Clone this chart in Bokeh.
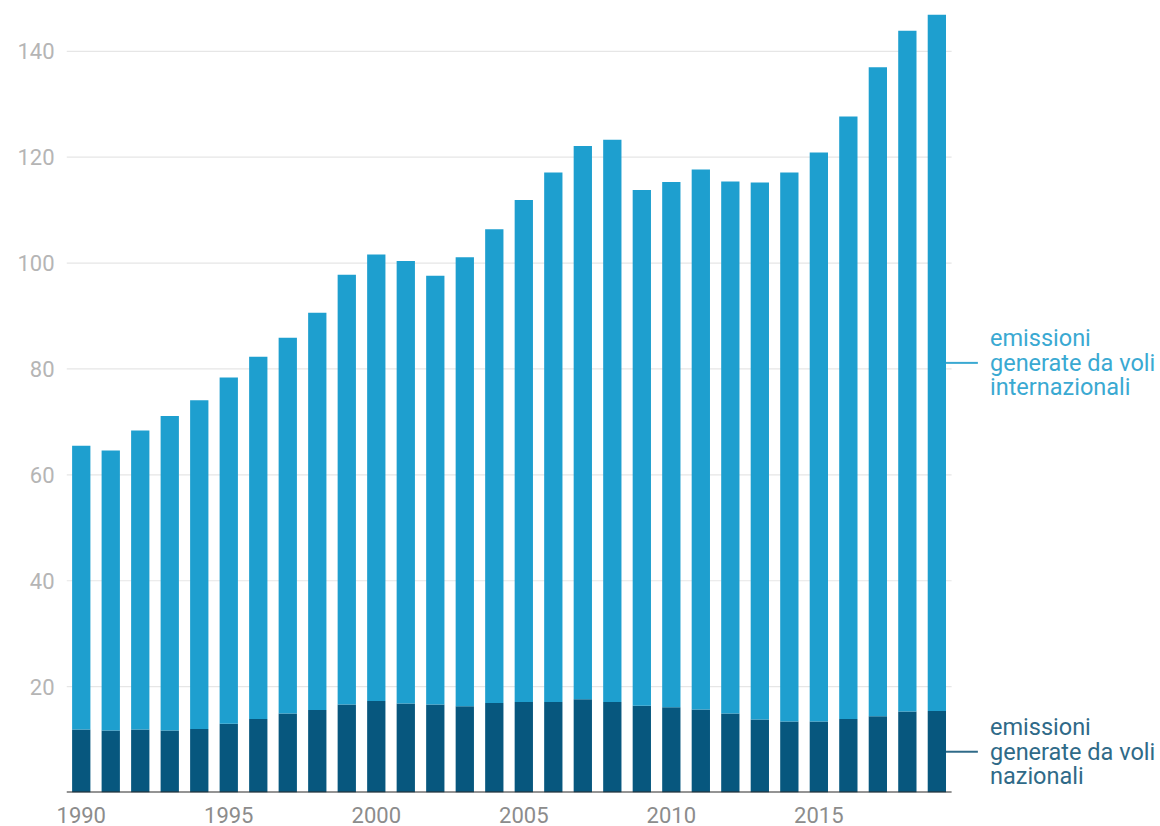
from bokeh.plotting import figure
from bokeh.models import ColumnDataSource, FixedTicker, Range1d
from bokeh.core.properties import value
from bokeh.embed import file_html
from bokeh.resources import INLINE

years = list(range(1990, 2020))
totale = [65.5, 64.6, 68.4, 71.1, 74.1, 78.4, 82.3, 85.9, 90.6, 97.8,
          101.6, 100.4, 97.6, 101.1, 106.4, 111.9, 117.1, 122.1, 123.3, 113.8,
          115.3, 117.7, 115.4, 115.2, 117.1, 120.9, 127.7, 137.0, 143.9, 146.9]
nazionali = [11.9, 11.7, 11.9, 11.7, 12.0, 13.0, 13.9, 14.9, 15.6, 16.6,
             17.3, 16.8, 16.6, 16.3, 16.9, 17.1, 17.1, 17.6, 17.1, 16.4,
             16.1, 15.7, 14.9, 13.8, 13.4, 13.4, 13.9, 14.4, 15.3, 15.4]
internazionali = [round(t - n, 2) for t, n in zip(totale, nazionali)]
y_ticks = [20, 40, 60, 80, 100, 120, 140]
x_ticks = [1990, 1995, 2000, 2005, 2010, 2015]
label_int = ["emissioni", "generate da voli", "internazionali"]
label_naz = ["emissioni", "generate da voli", "nazionali"]

C_INT = "#1e9fcf"
C_NAZ = "#07577e"
C_INT_TXT = "#3aa9d2"
C_NAZ_TXT = "#2f6a88"
FONT = "Roboto"

BAR_W = 0.62
x0, x1 = years[0] - 0.5, years[-1] + 0.5

src = ColumnDataSource(dict(year=years, naz=nazionali, intl=internazionali))

p = figure(width=1160, height=826, output_backend="svg", toolbar_location=None,
           x_range=Range1d(x0, 2026.58), y_range=Range1d(0, 149.6))
p.min_border_left = 66
p.min_border_right = 0
p.min_border_top = 0
p.min_border_bottom = 34
p.outline_line_color = None
p.background_fill_color = "white"
p.xgrid.visible = False
p.ygrid.visible = False

# gridlines only over the bar area
p.segment(x0=[x0] * len(y_ticks), x1=[x1] * len(y_ticks), y0=y_ticks, y1=y_ticks,
          line_color="#e6e6e6", line_width=1.2)

p.vbar_stack(["naz", "intl"], x="year", width=BAR_W, color=[C_NAZ, C_INT],
             source=src, line_color=None)

# baseline
p.segment(x0=[x0], x1=[x1], y0=[0], y1=[0], line_color="#2b2b2b", line_width=2)

# axes
p.xaxis.ticker = FixedTicker(ticks=x_ticks)
p.xaxis.axis_line_color = None
p.xaxis.major_tick_line_color = None
p.xaxis.minor_tick_line_color = None
p.xaxis.major_label_text_font = FONT
p.xaxis.major_label_text_font_size = "22px"
p.xaxis.major_label_text_color = "#8c8c8c"
p.xaxis.major_label_standoff = 8

p.yaxis.ticker = FixedTicker(ticks=y_ticks)
p.yaxis.axis_line_color = None
p.yaxis.major_tick_line_color = None
p.yaxis.minor_tick_line_color = None
p.yaxis.major_label_text_font = FONT
p.yaxis.major_label_text_font_size = "22px"
p.yaxis.major_label_text_color = "#b5b5b5"
p.yaxis.major_label_standoff = 6

# leader lines and labels at the middle of the last bar's segments
last_x = years[-1] + BAR_W / 2
lead_end = years[-1] + 1.39
text_x = years[-1] + 1.8
y_int = nazionali[-1] + internazionali[-1] / 2
y_naz = nazionali[-1] / 2

p.segment(x0=[last_x], x1=[lead_end], y0=[y_int], y1=[y_int], line_color=C_INT_TXT, line_width=2)
p.segment(x0=[last_x], x1=[lead_end], y0=[y_naz], y1=[y_naz], line_color=C_NAZ_TXT, line_width=2)

LH = 24.5
for lines, yv, col in ((label_int, y_int, C_INT_TXT), (label_naz, y_naz, C_NAZ_TXT)):
    n = len(lines)
    p.text(x=[text_x] * n, y=[yv] * n, text=lines,
           y_offset=[(i - (n - 1) / 2) * LH for i in range(n)],
           text_font=value(FONT), text_font_size="23.5px", text_color=col,
           text_align="left", text_baseline="middle")

open("out.html", "w").write(file_html(p, INLINE))
